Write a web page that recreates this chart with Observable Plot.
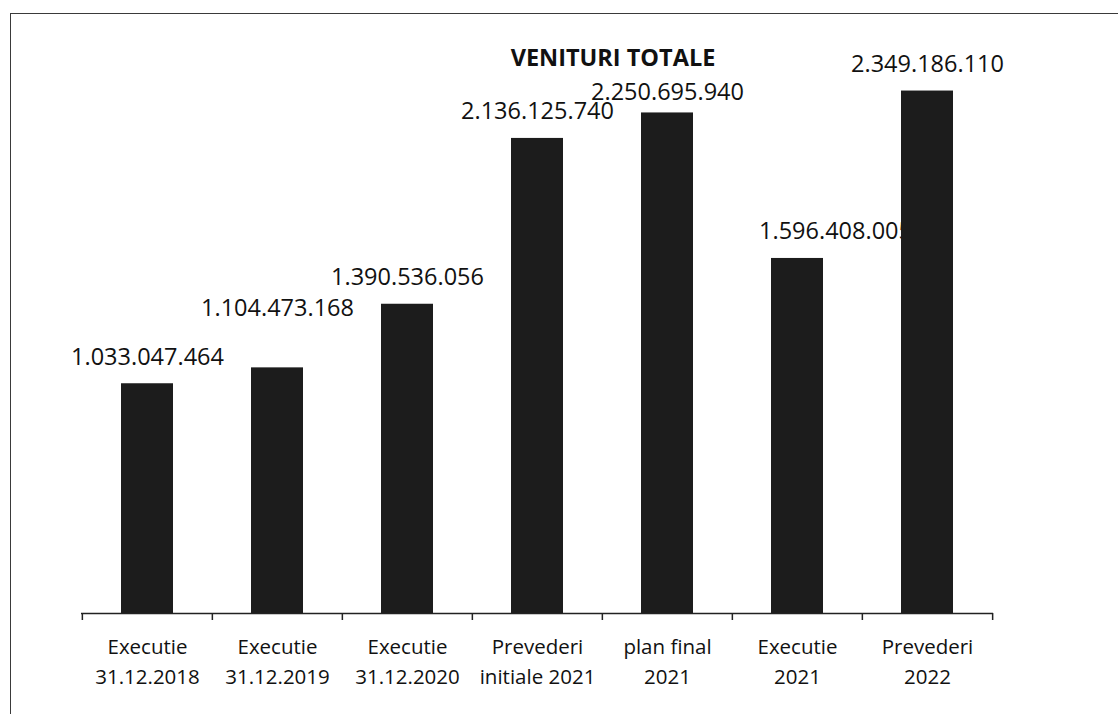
<!DOCTYPE html>
<html>
<head>
<meta charset="utf-8">
<script src="https://cdn.jsdelivr.net/npm/d3@7"></script>
<script src="https://cdn.jsdelivr.net/npm/@observablehq/plot@0.6"></script>
<style>
  html, body { margin: 0; padding: 0; background: #fff; }
  #wrap { position: relative; width: 1118px; height: 714px; overflow: hidden; font-family: "Open Sans", sans-serif; }
  #frame { position: absolute; left: 10px; top: 13px; width: 1200px; height: 800px;
           border-top: 1.5px solid #3a3a3a; border-left: 1.5px solid #3a3a3a; }
  #title { position: absolute; left: 0; width: 1226px; top: 46px; text-align: center;
           font-family: "Open Sans", sans-serif; font-weight: 700; font-size: 23.5px; color: #111; margin: 0; line-height: 1; }
  #chart { position: absolute; left: 0; top: 0; }
</style>
</head>
<body>
<div id="wrap">
  <div id="frame"></div>
  <div id="chart"></div>
  <div id="title">VENITURI TOTALE</div>
</div>
<script>
const categories = [
  "Executie\n31.12.2018",
  "Executie\n31.12.2019",
  "Executie\n31.12.2020",
  "Prevederi\ninitiale 2021",
  "plan final\n2021",
  "Executie\n2021",
  "Prevederi\n2022"
];
const values = [1033047464, 1104473168, 1390536056, 2136125740, 2250695940, 1596408005, 2349186110];

const data = categories.map((c, i) => ({category: c, value: values[i], idx: i}));
const ro = d3.formatLocale({decimal: ",", thousands: ".", grouping: [3], currency: ["", ""]});
const fmt = ro.format(",d");

const step = (993 - 81) / categories.length;
const labelStyle = {x: "category", y: "value", text: d => fmt(d.value), lineAnchor: "bottom", fontSize: 23.5, fill: "#111"};

const plot = Plot.plot({
  width: 1118,
  height: 714,
  marginLeft: 81,
  marginRight: 125,
  marginTop: 57,
  marginBottom: 101,
  style: {background: "transparent", fontFamily: "Open Sans, sans-serif", color: "#111"},
  x: {domain: categories, paddingInner: 0.6, paddingOuter: 0.3, label: null},
  y: {domain: [0, 2500000000], axis: null},
  marks: [
    Plot.text(data.filter(d => ![1, 4, 5].includes(d.idx)), {...labelStyle, dy: -19}),
    Plot.text(data.filter(d => d.idx === 1), {...labelStyle, dy: -52}),
    Plot.text(data.filter(d => d.idx === 4), {...labelStyle, dy: -13}),
    Plot.text(data.filter(d => d.idx === 5), {...labelStyle, dy: -19, dx: 38}),
    Plot.barY(data, {x: "category", y: "value", fill: "#1c1c1c"}),
    Plot.ruleY([0], {stroke: "#222", strokeWidth: 1.5}),
    Plot.ruleX(categories, {x: d => d, y1: 0, y2: 0, dx: -step / 2, insetBottom: -7, stroke: "#222", strokeWidth: 1.5}),
    Plot.ruleX(categories.slice(-1), {x: d => d, y1: 0, y2: 0, dx: step / 2, insetBottom: -7, stroke: "#222", strokeWidth: 1.5}),
    Plot.axisX({tickSize: 0, tickPadding: 20, fontSize: 20.5, lineHeight: 1.43, fill: "#111", label: null})
  ]
});
document.getElementById("chart").appendChild(plot);
</script>
</body>
</html>
